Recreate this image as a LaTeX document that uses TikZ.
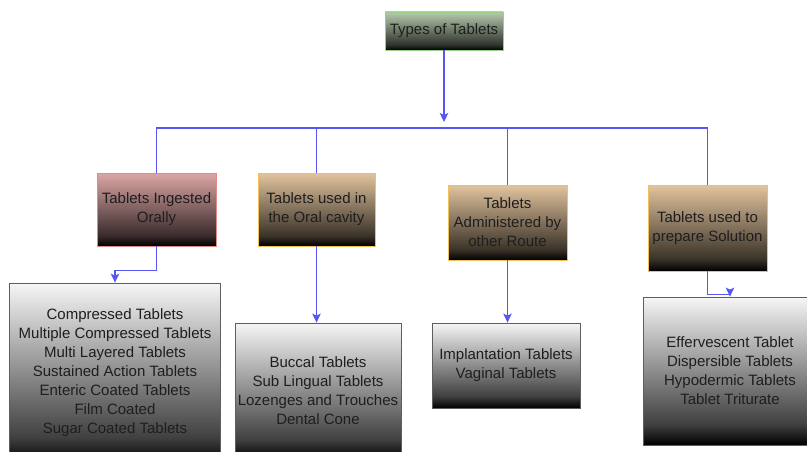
\documentclass[tikz,border=0pt]{standalone}
\usepackage{fontspec}
\setmainfont{Liberation Sans}
\usetikzlibrary{arrows.meta}
\definecolor{wire}{HTML}{5656F2}
\definecolor{txt}{HTML}{1E1E1E}
\definecolor{greenline}{HTML}{98D088}
\definecolor{greentop}{HTML}{B6CAAE}
\definecolor{redline}{HTML}{E08A8A}
\definecolor{redtop}{HTML}{DDA6A6}
\definecolor{goldline}{HTML}{F0C25A}
\definecolor{tantop}{HTML}{E2C49E}
\definecolor{greyline}{HTML}{5E5E5E}
\definecolor{greytop}{HTML}{F6F6F6}
% top-to-black fades that stay light longer and darken near the bottom
\pgfdeclareverticalshading{fadegreen}{100bp}{color(0bp)=(black); color(25bp)=(black);
  color(32bp)=(greentop!26!black); color(50bp)=(greentop!57!black); color(75bp)=(greentop); color(100bp)=(greentop)}
\pgfdeclareverticalshading{fadered}{100bp}{color(0bp)=(black); color(25bp)=(black);
  color(32bp)=(redtop!26!black); color(50bp)=(redtop!57!black); color(75bp)=(redtop); color(100bp)=(redtop)}
\pgfdeclareverticalshading{fadetan}{100bp}{color(0bp)=(black); color(25bp)=(black);
  color(32bp)=(tantop!26!black); color(50bp)=(tantop!57!black); color(75bp)=(tantop); color(100bp)=(tantop)}
\pgfdeclareverticalshading{fadegrey}{100bp}{color(0bp)=(black); color(25bp)=(black);
  color(32bp)=(greytop!26!black); color(50bp)=(greytop!57!black); color(75bp)=(greytop); color(100bp)=(greytop)}
\begin{document}
\begin{tikzpicture}[x=1pt,y=-1pt,
  box/.style={draw, line width=0.8pt, inner sep=0pt, align=center, text=txt,
    font=\fontsize{15}{19}\selectfont},
  rootbox/.style={box, draw=greenline, shade, shading=fadegreen},
  redbox/.style={box, draw=redline, shade, shading=fadered},
  tanbox/.style={box, draw=goldline, shade, shading=fadetan},
  listbox/.style={box, draw=greyline, shade, shading=fadegrey},
  wireline/.style={draw=wire, line width=1.2pt},
  arr/.style={wireline, -{Stealth[length=9pt, width=8.5pt, inset=2pt]}}]
\useasboundingbox (0,0) rectangle (807,452);
\fill[white] (0,0) rectangle (807,452);
\clip (0,0) rectangle (807,452);

% root
\node[rootbox, minimum width=118pt, minimum height=38pt] (root) at (444,31) {Types of Tablets};

% categories
\node[redbox, minimum width=119pt, minimum height=73pt] (c1) at (156.5,209.5) {Tablets Ingested\\Orally};
\node[tanbox, minimum width=117pt, minimum height=73pt] (c2) at (316.5,209.5) {Tablets used in\\the Oral cavity};
\node[tanbox, minimum width=119pt, minimum height=75pt] (c3) at (507.5,222.5) {Tablets\\Administered by\\other Route};
\node[tanbox, minimum width=119pt, minimum height=86pt] (c4) at (707.5,228) {Tablets used to\\prepare Solution};

% lists (the two left boxes run on below the lower edge)
\node[listbox, minimum width=211pt, minimum height=180pt] (d1) at (115,373)
  {Compressed Tablets\\Multiple Compressed Tablets\\Multi Layered Tablets\\Sustained Action Tablets\\Enteric Coated Tablets\\Film Coated\\Sugar Coated Tablets};
\node[listbox, minimum width=166pt, minimum height=136pt] (d2) at (318,391)
  {Buccal Tablets\\Sub Lingual Tablets\\Lozenges and Trouches\\Dental Cone};
\node[listbox, minimum width=148pt, minimum height=85pt] (d3) at (506,365.5)
  {Implantation Tablets\\Vaginal Tablets};
\node[listbox, minimum width=174pt, minimum height=148pt] (d4) at (730,371)
  {Effervescent Tablet\\Dispersible Tablets\\Hypodermic Tablets\\Tablet Triturate};

% connectors
\coordinate (tip) at (444,122);
\coordinate (bus) at (444,128);
\draw[arr] (root.south) -- (tip);
\draw[wireline] (c1.north) |- (bus) -| (c4.north);
\draw[wireline] (c2.north) -- (c2.north |- bus);
\draw[wireline] (c3.north) -- (c3.north |- bus);
\draw[arr] (c1.south) -- ++(0,24) -| (d1.north);
\draw[arr] (c2.south) -- (c2.south |- d2.north);
\draw[arr] (c3.south) -- (c3.south |- d3.north);
\draw[arr] (c4.south) -- ++(0,23) -| (d4.north);
\end{tikzpicture}
\end{document}
